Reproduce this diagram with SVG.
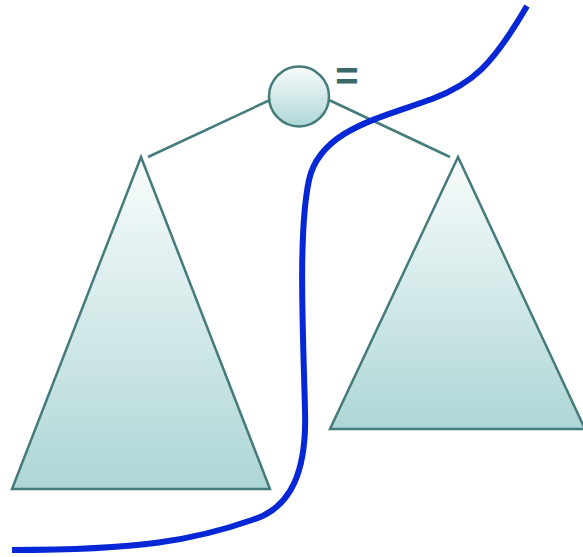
<svg xmlns="http://www.w3.org/2000/svg" width="583" height="557" viewBox="0 0 583 557">
<style>
.shape{stroke:#457b7b;stroke-width:2.5}
.edge{stroke:#457b7b;stroke-width:2.5;fill:none}
.curve{stroke:#0527d6;stroke-width:6;fill:none;stroke-linecap:butt}
.eq{font-family:"Liberation Sans",Arial,sans-serif;font-weight:bold;font-size:40px;fill:#3a6a68}
</style>
<defs>
<linearGradient id="g" x1="0" y1="0" x2="0" y2="1">
<stop offset="0" stop-color="#f9fcfc"/>
<stop offset="1" stop-color="#aed6d6"/>
</linearGradient>
</defs>
<g id="edges">
<line class="edge" x1="270" y1="100" x2="148" y2="157"/>
<line class="edge" x1="329" y1="100" x2="450" y2="157"/>
</g>
<g id="left-tree">
<polygon class="shape" fill="url(#g)" points="141,157 12,489 270,489"/>
</g>
<g id="right-tree">
<polygon class="shape" fill="url(#g)" points="458,157 330,429 585,429"/>
</g>
<g id="root">
<circle class="shape" fill="url(#g)" cx="299" cy="96.5" r="30"/>
<text class="eq" x="347" y="90" text-anchor="middle">=</text>
</g>
<g id="cut">
<path class="curve" d="M 527 6 C 492 66, 472 84, 432 99 C 380 118, 320 130, 309 180 C 298 232, 303 330, 305 410 C 307 470, 292 508, 252 520 C 195 540, 140 550, 12 550"/>
</g>
</svg>
